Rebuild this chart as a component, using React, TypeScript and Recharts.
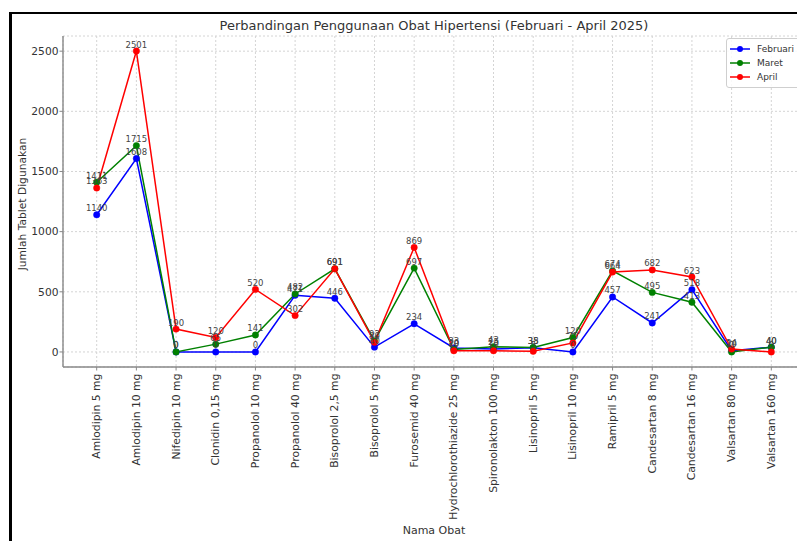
import { LineChart, Line, XAxis, YAxis, CartesianGrid, Legend, LabelList } from 'recharts';

const drugs = [
  'Amlodipin 5 mg',
  'Amlodipin 10 mg',
  'Nifedipin 10 mg',
  'Clonidin 0,15 mg',
  'Propanolol 10 mg',
  'Propanolol 40 mg',
  'Bisoprolol 2,5 mg',
  'Bisoprolol 5 mg',
  'Furosemid 40 mg',
  'Hydrochlorothiazide 25 mg',
  'Spironolakton 100 mg',
  'Lisinopril 5 mg',
  'Lisinopril 10 mg',
  'Ramipril 5 mg',
  'Candesartan 8 mg',
  'Candesartan 16 mg',
  'Valsartan 80 mg',
  'Valsartan 160 mg',
];

const februari = [1140, 1608, 0, 0, 0, 471, 446, 40, 234, 33, 25, 35, 0, 457, 241, 518, 10, 40];
const maret = [1411, 1715, 0, 65, 141, 482, 691, 92, 697, 20, 43, 38, 120, 674, 495, 413, 0, 40];
const april = [1363, 2501, 190, 120, 520, 302, 691, 80, 869, 10, 10, 5, 75, 664, 682, 623, 24, 0];

const yTicks = [0, 500, 1000, 1500, 2000, 2500];

const series = [
  { key: 'februari', name: 'Februari', color: '#0000ff' },
  { key: 'maret', name: 'Maret', color: '#008000' },
  { key: 'april', name: 'April', color: '#ff0000' },
];

const data = drugs.map((nama, i) => ({
  nama,
  februari: februari[i],
  maret: maret[i],
  april: april[i],
}));

const FONT = '"DejaVu Sans", sans-serif';

const XTick = (props: any) => {
  const { x, y, payload } = props;
  return (
    <text
      x={x}
      y={y}
      transform={`rotate(-90, ${x}, ${y})`}
      textAnchor="end"
      dominantBaseline="central"
      fontSize={10.8}
      fill="#333"
      fontFamily={FONT}
    >
      {payload.value}
    </text>
  );
};

const PointLabel = (props: any) => {
  const { x, y, value } = props;
  return (
    <text x={x} y={y - 3.5} textAnchor="middle" fontSize={8.5} fill="#444" fontFamily={FONT}>
      {value}
    </text>
  );
};

const LegendBox = () => (
  <div
    style={{
      border: '1px solid #cfcfcf',
      borderRadius: 3,
      background: 'rgba(255,255,255,0.85)',
      padding: '3px 6px 3px 2px',
      fontFamily: FONT,
      fontSize: 9,
      color: '#333',
    }}
  >
    {series.map((s) => (
      <div key={s.key} style={{ display: 'flex', alignItems: 'center', height: 14 }}>
        <svg width={22} height={10} style={{ marginRight: 6 }}>
          <line x1={1} y1={5} x2={21} y2={5} stroke={s.color} strokeWidth={1.5} />
          <circle cx={11} cy={5} r={3} fill={s.color} />
        </svg>
        <span>{s.name}</span>
      </div>
    ))}
  </div>
);

export default function App() {
  return (
    <div
      style={{
        position: 'fixed',
        left: 0,
        top: 0,
        width: 797,
        height: 541,
        overflow: 'hidden',
        background: '#fff',
      }}
    >
      <div
        style={{
          position: 'absolute',
          left: 9,
          top: 12,
          width: 900,
          height: 600,
          borderLeft: '3px solid #000',
          borderTop: '2px solid #000',
          boxSizing: 'border-box',
        }}
      />
      <div
        style={{
          position: 'absolute',
          left: 0,
          top: 17,
          width: 868,
          textAlign: 'center',
          fontFamily: FONT,
          fontSize: 13,
          color: '#333',
          lineHeight: '18px',
        }}
      >
        Perbandingan Penggunaan Obat Hipertensi (Februari - April 2025)
      </div>
      <div
        style={{
          position: 'absolute',
          left: 22,
          top: 204,
          transform: 'translate(-50%, -50%) rotate(-90deg)',
          whiteSpace: 'nowrap',
          fontFamily: FONT,
          fontSize: 10.7,
          color: '#333',
        }}
      >
        Jumlah Tablet Digunakan
      </div>
      <div
        style={{
          position: 'absolute',
          left: 0,
          top: 523,
          width: 868,
          textAlign: 'center',
          fontFamily: FONT,
          fontSize: 11,
          color: '#333',
          lineHeight: '16px',
        }}
      >
        Nama Obat
      </div>
      <div style={{ position: 'absolute', left: 0, top: 0 }}>
        <LineChart width={830} height={541} data={data} margin={{ top: 36, right: 25, bottom: 0, left: 0 }}>
          <CartesianGrid stroke="#d4d4d4" strokeDasharray="2 2" />
          <XAxis
            dataKey="nama"
            interval={0}
            height={174}
            padding={{ left: 33.7, right: 33.7 }}
            tick={<XTick />}
            tickSize={3.5}
            tickMargin={3}
            axisLine={{ stroke: '#888', strokeWidth: 1.4 }}
            tickLine={{ stroke: '#888' }}
          />
          <YAxis
            type="number"
            width={63}
            domain={[-125, 2626]}
            ticks={yTicks}
            allowDataOverflow
            tickSize={3.5}
            tickMargin={1}
            tick={{ fontSize: 10.7, fill: '#333', fontFamily: FONT }}
            axisLine={{ stroke: '#888', strokeWidth: 1.4 }}
            tickLine={{ stroke: '#888' }}
          />
          <Legend
            layout="vertical"
            align="center"
            verticalAlign="middle"
            content={<LegendBox />}
            wrapperStyle={{ position: 'absolute', left: 726, top: 38, width: 100, height: 'auto' }}
          />
          {series.map((s) => (
            <Line
              key={s.key}
              type="linear"
              dataKey={s.key}
              name={s.name}
              stroke={s.color}
              strokeWidth={1.5}
              dot={{ r: 3.2, fill: s.color, stroke: s.color, strokeWidth: 0.5 }}
              activeDot={false}
              isAnimationActive={false}
            >
              <LabelList dataKey={s.key} content={<PointLabel />} />
            </Line>
          ))}
        </LineChart>
      </div>
    </div>
  );
}
